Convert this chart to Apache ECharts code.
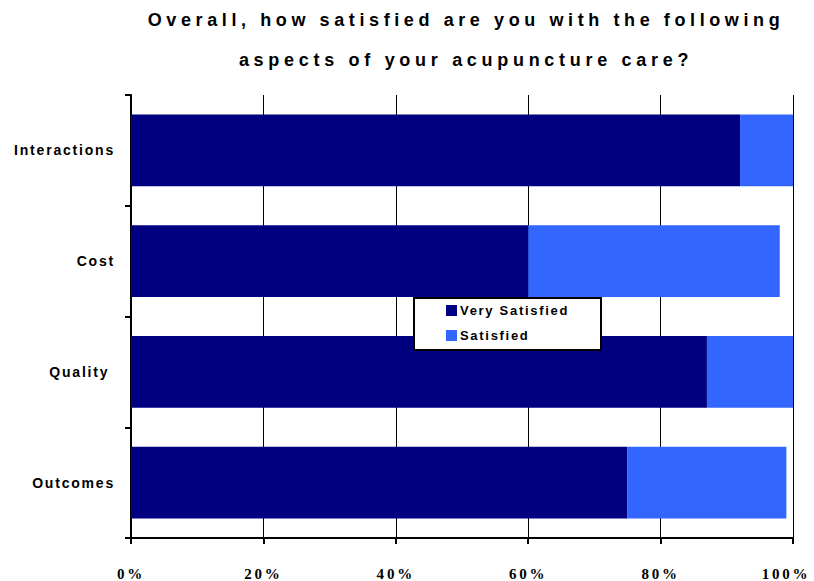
<!DOCTYPE html>
<html><head><meta charset="utf-8">
<script src="https://cdn.jsdelivr.net/npm/echarts@6/dist/echarts.min.js"></script>
<style>html,body{margin:0;padding:0;background:#fff}#chart{width:814px;height:581px}</style>
</head><body><div id="chart"></div>
<script>
const titleLines = ['Overall, how satisfied are you with the following', 'aspects of your acupuncture care?'];
const categories = ['Interactions', 'Cost', 'Quality ', 'Outcomes'];
const verySatisfied = [92, 60, 87, 75];
const satisfied = [8, 38, 13, 24];
const seriesNames = ['Very Satisfied', 'Satisfied'];
const xMin = 0, xMax = 100, xStep = 20;

const chart = echarts.init(document.getElementById('chart'), null, {renderer: 'svg'});
const SANS = 'Liberation Sans, Arial, sans-serif';
const SERIF = 'Liberation Serif, Times New Roman, serif';

chart.setOption({
  animation: false,
  backgroundColor: '#fff',
  title: {
    text: titleLines.join('\n'),
    left: 466, top: 0, padding: 0,
    textAlign: 'center',
    textStyle: {fontFamily: SANS, fontWeight: 'bold', fontSize: 18, color: '#000', lineHeight: 40}
  },
  legend: {
    orient: 'vertical',
    left: 446, top: 304, padding: 0,
    itemWidth: 11, itemHeight: 11, itemGap: 12,
    icon: 'rect',
    z: 6,
    data: seriesNames,
    textStyle: {fontFamily: SANS, fontWeight: 'bold', fontSize: 13, color: '#000', padding: [0,0,0,-2]}
  },
  graphic: [{
    type: 'rect', left: 413, top: 297, z: 5,
    shape: {width: 187, height: 52},
    style: {fill: '#fff', stroke: '#000', lineWidth: 2}
  }],
  grid: {left: 131, right: 21, top: 95, bottom: 41, containLabel: false},
  xAxis: {
    type: 'value', min: xMin, max: xMax, interval: xStep,
    axisLine: {show: true, lineStyle: {color: '#000', width: 2}},
    axisTick: {show: true, length: 6, lineStyle: {color: '#000', width: 2}},
    splitLine: {show: true, showMinLine: false, showMaxLine: true, lineStyle: {color: '#000', width: 1}},
    axisLabel: {
      margin: 28, fontFamily: SERIF, fontWeight: 'bold', fontSize: 15, color: '#000',
      formatter: v => v === xMax ? '{r|' + v + '%}' : v + '%',
      rich: {r: {fontFamily: SERIF, fontWeight: 'bold', fontSize: 15, color: '#000', padding: [0, 14, 0, 0]}}
    }
  },
  yAxis: {
    type: 'category', inverse: true, data: categories,
    axisLine: {show: true, lineStyle: {color: '#000', width: 2}},
    axisTick: {show: true, length: 6, lineStyle: {color: '#000', width: 2}},
    splitLine: {show: false},
    axisLabel: {margin: 16, fontFamily: SANS, fontWeight: 'bold', fontSize: 14, color: '#000'}
  },
  series: [
    {name: seriesNames[0], type: 'bar', stack: 's', data: verySatisfied, barCategoryGap: '35%',
     itemStyle: {color: '#000080'}},
    {name: seriesNames[1], type: 'bar', stack: 's', data: satisfied, barCategoryGap: '35%',
     itemStyle: {color: '#3366FF'}}
  ]
});

function spacing() {
  document.querySelectorAll('#chart text').forEach(t => {
    const s = t.textContent;
    let ls = 0;
    if (s === titleLines[0]) ls = 4.6;
    else if (s === titleLines[1]) ls = 4.7;
    else if (/%$/.test(s)) ls = 2.8;
    else if (seriesNames.includes(s)) ls = 1.7;
    else if (categories.includes(s)) ls = 1.8;
    if (ls) t.setAttribute('letter-spacing', ls + 'px');
  });
}
chart.on('finished', spacing);
spacing();
setTimeout(spacing, 50);
</script></body></html>
